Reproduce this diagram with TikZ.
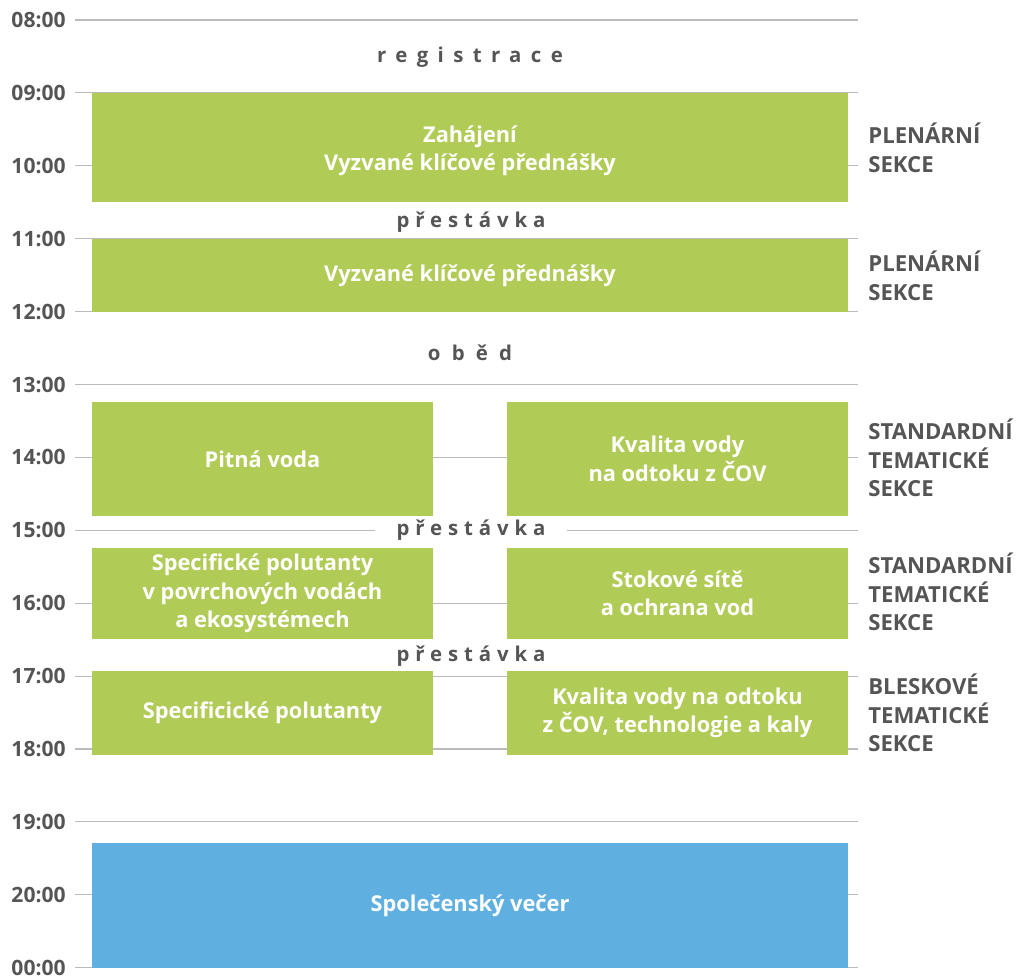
\documentclass[tikz,border=0pt]{standalone}
\usepackage{fontspec}
\setmainfont{Open Sans}[BoldFont={Open Sans Bold}]
\usetikzlibrary{positioning}

\definecolor{slotgreen}{HTML}{B0CB56}
\definecolor{slotblue}{HTML}{5FB0E0}
\definecolor{labelgrey}{HTML}{555555}
\definecolor{rulegrey}{HTML}{BBBBBB}

\begin{document}
\begin{tikzpicture}[
            x = 0.02cm, y = -0.02cm, % one unit = one pixel of the layout
            hourline/.style = {draw=rulegrey, line width=0.6pt},
            hourlabel/.style = {anchor=east, inner sep=0pt, text=labelgrey,
                font=\bfseries\fontsize{12}{14}\selectfont},
            greenbox/.style = {fill=slotgreen},
            bluebox/.style = {fill=slotblue},
            boxtext/.style = {text=white, align=center, inner sep=0pt,
                font=\bfseries\fontsize{12.4}{16.2}\selectfont},
            pause/.style = {anchor=base, text=labelgrey, inner sep=0pt,
                font=\bfseries\fontsize{11.6}{14}\selectfont\addfontfeature{LetterSpace=#1}},
            pause/.default = 46,
            section/.style = {anchor=west, align=left, text=labelgrey, inner sep=0pt,
                font=\bfseries\fontsize{12.6}{16.2}\selectfont}
        ]
        \useasboundingbox (0,0) rectangle (1016,975);

        % hour grid
        \foreach \i/\t in {0/08:00, 1/09:00, 2/10:00, 3/11:00, 4/12:00, 5/13:00, 6/14:00,
                7/15:00, 8/16:00, 9/17:00, 10/18:00, 11/19:00, 12/20:00, 13/00:00} {
            \node[hourlabel] (h\i) at (66, 20+72.9*\i) {\t};
            \draw[hourline] (75, 20+72.9*\i) -- (858, 20+72.9*\i);
        }

        % breaks
        \node[pause]     (registrace) at (470,62)  {registrace};
        \node[pause=29]  (pause1)     at (471,227) {přestávka};
        \node[pause=55]  (obed)       at (470,360) {oběd};
        \node[pause=29, fill=white, inner xsep=12pt, inner ysep=3pt] (pause2) at (471,535) {přestávka};
        \node[pause=29]  (pause3)     at (471,661) {přestávka};

        % plenary
        \fill[greenbox] (92,93)  rectangle node[boxtext, yshift=-2] (zahajeni)
            {Zahájení\\Vyzvané klíčové přednášky} (848,202);
        \fill[greenbox] (92,239) rectangle node[boxtext] (vyzvane)
            {Vyzvané klíčové přednášky} (848,312);

        % thematic sections
        \fill[greenbox] (92,402)  rectangle node[boxtext] (pitna)
            {Pitná voda} (433,516);
        \fill[greenbox] (507,402) rectangle node[boxtext] (kvalita)
            {Kvalita vody\\na odtoku z ČOV} (848,516);
        \fill[greenbox] (92,548)  rectangle node[boxtext] (polutanty)
            {Specifické polutanty\\v povrchových vodách\\a ekosystémech} (433,639);
        \fill[greenbox] (507,548) rectangle node[boxtext] (stokove)
            {Stokové sítě\\a ochrana vod} (848,639);
        \fill[greenbox] (92,671)  rectangle node[boxtext] (specificke)
            {Specificické polutanty} (433,755);
        \fill[greenbox] (507,671) rectangle node[boxtext] (kaly)
            {Kvalita vody na odtoku\\z ČOV, technologie a kaly} (848,755);

        % evening
        \fill[bluebox] (92,843) rectangle node[boxtext] (vecer)
            {Společenský večer} (848,968);

        % section names
        \node[section] (plen1) at (868,148) {PLENÁRNÍ\\SEKCE};
        \node[section] (plen2) at (868,276) {PLENÁRNÍ\\SEKCE};
        \node[section] (std1)  at (868,458) {STANDARDNÍ\\TEMATICKÉ\\SEKCE};
        \node[section] (std2)  at (868,592) {STANDARDNÍ\\TEMATICKÉ\\SEKCE};
        \node[section] (blesk) at (868,713) {BLESKOVÉ\\TEMATICKÉ\\SEKCE};
    \end{tikzpicture}
\end{document}
